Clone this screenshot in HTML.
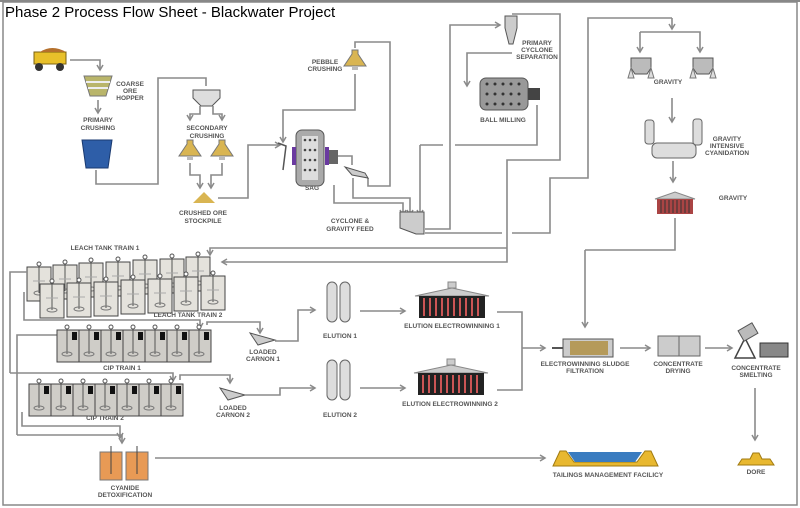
<!DOCTYPE html>
<html><head><meta charset="utf-8"><style>
body{margin:0;background:#fff}
svg{display:block}
text{font-family:"Liberation Sans",sans-serif;font-weight:bold;font-size:6.5px;fill:#555;text-anchor:middle}
.t{font-weight:normal;font-size:15px;fill:#000;text-anchor:start}
.l{fill:none;stroke:#8a8a8a;stroke-width:1.6}
.a{fill:none;stroke:#8a8a8a;stroke-width:1.6;marker-end:url(#m)}
.tk{fill:#e4e2dc;stroke:#444;stroke-width:1}
.cp{fill:#cfcdc8;stroke:#444;stroke-width:1}
</style></head><body>
<svg width="800" height="508" viewBox="0 0 800 508">
<defs>
<marker id="m" markerWidth="8" markerHeight="8" refX="6" refY="4" orient="auto" markerUnits="userSpaceOnUse"><path d="M1,1 L6,4 L1,7" fill="none" stroke="#8a8a8a" stroke-width="1.5"/></marker>
<g id="tank"><rect class="tk" x="0" y="0" width="24" height="34"/><line x1="12" y1="-3" x2="12" y2="26" stroke="#555"/><circle cx="12" cy="-3" r="2" fill="#fff" stroke="#555"/><ellipse cx="12" cy="26" rx="5" ry="2" fill="none" stroke="#777"/><line x1="6" y1="14" x2="18" y2="14" stroke="#aaa"/></g>
<g id="cip"><rect class="cp" x="0" y="0" width="22" height="32"/><line x1="10" y1="-3" x2="10" y2="24" stroke="#555"/><circle cx="10" cy="-3" r="2" fill="#fff" stroke="#555"/><rect x="15" y="2" width="5" height="8" fill="#111"/><ellipse cx="10" cy="24" rx="5" ry="2" fill="none" stroke="#777"/></g>
<g id="cone"><path d="M-3,0 h6 v4 l8,12 h-22 l8,-12z" fill="#d9b552" stroke="#777"/><rect x="-3" y="16" width="6" height="4" fill="#bbb"/></g>
<g id="ew"><path d="M0,8 L37,0 L74,8z" fill="#ccc" stroke="#888"/><rect x="33" y="-6" width="8" height="6" fill="#ccc" stroke="#888"/><rect x="4" y="8" width="66" height="22" fill="#222"/><g stroke="#c55" stroke-width="2"><path d="M9,10v18M15,10v18M21,10v18M27,10v18M33,10v18M39,10v18M45,10v18M51,10v18M57,10v18M63,10v18"/></g></g>
<g id="col"><rect x="0" y="0" width="10" height="40" rx="5" fill="#ddd" stroke="#666"/><rect x="13" y="0" width="10" height="40" rx="5" fill="#ddd" stroke="#666"/></g>
</defs>
<line x1="0" y1="1" x2="800" y2="1" stroke="#888" stroke-width="2"/>
<rect x="3" y="2" width="794" height="503" fill="none" stroke="#888" stroke-width="1.5"/>
<text class="t" x="5" y="17">Phase 2 Process Flow Sheet - Blackwater Project</text>

<rect x="34" y="52" width="32" height="12" fill="#e8c02a" stroke="#7a6010"/><path d="M40,52 q12,-8 26,0z" fill="#b5702c"/><circle cx="39" cy="67" r="4" fill="#333"/><circle cx="60" cy="67" r="4" fill="#333"/>
<path class="a" d="M70,60 H100 V70"/>
<path d="M84,76 h28 l-6,20 h-16z" fill="#b9b56a" stroke="#777"/><path d="M86,82h24M88,88h20" stroke="#eee" stroke-width="2"/>
<text x="130" y="86">COARSE</text><text x="130" y="93">ORE</text><text x="130" y="100">HOPPER</text>
<path class="a" d="M98,100 V113"/>
<text x="98" y="122">PRIMARY</text><text x="98" y="130">CRUSHING</text>
<path d="M82,140 h30 l-4,28 h-22z" fill="#2e5ea8" stroke="#1a3a70"/>
<path class="l" d="M96,170 V184 H158 V78 H206 V86"/>
<path d="M193,90 h27 v8 l-8,8 h-11 l-8,-8z" fill="#ddd" stroke="#555"/>
<path class="a" d="M200,106 V114 H190 V120"/><path class="a" d="M213,106 V114 H222 V120"/>
<text x="207" y="130">SECONDARY</text><text x="207" y="138">CRUSHING</text>
<use href="#cone" x="190" y="140"/><use href="#cone" x="222" y="140"/>
<path class="a" d="M190,163 V175 H200 V188"/><path class="a" d="M222,163 V175 H211 V188"/>
<path d="M193,203 l11,-11 l11,11z" fill="#d9b552"/>
<text x="203" y="215">CRUSHED ORE</text><text x="203" y="223">STOCKPILE</text>
<path class="a" d="M218,198 H248 V145 H280"/>
<rect x="296" y="130" width="28" height="56" rx="6" fill="#aaa" stroke="#555"/>
<rect x="302" y="136" width="16" height="44" fill="#ddd"/>
<g fill="#444"><circle cx="305" cy="140" r="1.3"/><circle cx="310" cy="140" r="1.3"/><circle cx="315" cy="140" r="1.3"/><circle cx="305" cy="150" r="1.3"/><circle cx="310" cy="150" r="1.3"/><circle cx="315" cy="150" r="1.3"/><circle cx="305" cy="160" r="1.3"/><circle cx="310" cy="160" r="1.3"/><circle cx="315" cy="160" r="1.3"/><circle cx="305" cy="170" r="1.3"/><circle cx="310" cy="170" r="1.3"/><circle cx="315" cy="170" r="1.3"/></g>
<rect x="292" y="147" width="4" height="18" fill="#6a3aa0"/><rect x="325" y="147" width="4" height="18" fill="#6a3aa0"/><rect x="329" y="150" width="9" height="14" fill="#666"/>
<path d="M278,143 l8,3 l-3,24" fill="none" stroke="#555" stroke-width="1.5"/>
<text x="312" y="190">SAG</text>
<use href="#cone" x="355" y="50"/>
<text x="325" y="64">PEBBLE</text><text x="325" y="71">CRUSHING</text>
<path class="a" d="M355,74 V110 H283 V142"/>
<path class="l" d="M355,48 V42 H390 V186 H368 V178"/>
<path d="M345,167 l20,6 l3,5 l-16,-3z" fill="#ccc" stroke="#555"/>
<path class="l" d="M338,156 H352 V165"/>
<path class="a" d="M334,185 V203 H403 V215"/><path class="a" d="M353,178 V198 H410 V215"/>
<path class="a" d="M420,145 V215"/><path class="l" d="M420,145 H443 M455,145 H537 V105"/>
<path d="M400,212 h24 v22 h-8 l-16,-6z" fill="#ccc" stroke="#555"/>
<text x="350" y="223">CYCLONE &amp;</text><text x="350" y="231">GRAVITY FEED</text>
<path class="a" d="M425,229 H450 V25 H500"/>
<path d="M505,16 h12 v12 l-4,16 h-4 l-4,-16z" fill="#ccc" stroke="#555"/>
<text x="537" y="45">PRIMARY</text><text x="537" y="52">CYCLONE</text><text x="537" y="59">SEPARATION</text>
<path class="l" d="M512,14 H560 V160 H507 V262 H228"/><path class="a" d="M507,248 H210 V255"/><path class="a" d="M228,262 H222"/>
<path class="a" d="M512,53 H467 V86"/>
<rect x="480" y="78" width="48" height="32" rx="6" fill="#999" stroke="#555"/>
<g fill="#333"><circle cx="487" cy="84" r="1.5"/><circle cx="495" cy="84" r="1.5"/><circle cx="503" cy="84" r="1.5"/><circle cx="511" cy="84" r="1.5"/><circle cx="519" cy="84" r="1.5"/><circle cx="487" cy="94" r="1.5"/><circle cx="495" cy="94" r="1.5"/><circle cx="503" cy="94" r="1.5"/><circle cx="511" cy="94" r="1.5"/><circle cx="519" cy="94" r="1.5"/><circle cx="487" cy="104" r="1.5"/><circle cx="495" cy="104" r="1.5"/><circle cx="503" cy="104" r="1.5"/><circle cx="511" cy="104" r="1.5"/><circle cx="519" cy="104" r="1.5"/></g>
<rect x="528" y="88" width="12" height="12" fill="#444"/>
<text x="503" y="122">BALL MILLING</text>
<path class="l" d="M425,233 H502 M512,233 H550 V178 H588 V18 H672"/><path class="a" d="M672,18 V29"/>
<path class="a" d="M640,32 H700 V52"/><path class="a" d="M640,32 V52"/>
<path d="M631,58 h20 v10 l-4,6 h-12 l-4,-6z" fill="#bbb" stroke="#555"/><path d="M693,58 h20 v10 l-4,6 h-12 l-4,-6z" fill="#bbb" stroke="#555"/>
<path d="M631,68l-3,10h6zM651,68l3,10h-6zM693,68l-3,10h6zM713,68l3,10h-6z" fill="#ddd" stroke="#777"/>
<text x="668" y="84">GRAVITY</text>
<path class="a" d="M672,98 V122"/>
<rect x="645" y="120" width="9" height="24" rx="3" fill="#ddd" stroke="#666"/><rect x="693" y="119" width="9" height="26" rx="3" fill="#ddd" stroke="#666"/>
<rect x="652" y="143" width="44" height="15" rx="5" fill="#ddd" stroke="#666"/>
<text x="727" y="141">GRAVITY</text><text x="727" y="148">INTENSIVE</text><text x="727" y="155">CYANIDATION</text>
<path class="a" d="M673,161 V182"/>
<path d="M655,199 L675,192 L695,199z" fill="#ccc" stroke="#888"/><rect x="657" y="199" width="36" height="15" fill="#a44"/><path d="M661,200v13M665,200v13M669,200v13M673,200v13M677,200v13M681,200v13M685,200v13M689,200v13" stroke="#333"/>
<text x="733" y="200">GRAVITY</text>
<path class="l" d="M675,218 V250 H585"/><path class="a" d="M585,250 V327"/>
<text x="105" y="250">LEACH TANK TRAIN 1</text>
<use href="#tank" x="27" y="267"/><use href="#tank" x="53" y="265"/><use href="#tank" x="79" y="263"/><use href="#tank" x="106" y="262"/><use href="#tank" x="133" y="260"/><use href="#tank" x="160" y="259"/><use href="#tank" x="186" y="257"/>
<use href="#tank" x="40" y="284"/><use href="#tank" x="67" y="283"/><use href="#tank" x="94" y="282"/><use href="#tank" x="121" y="280"/><use href="#tank" x="148" y="279"/><use href="#tank" x="174" y="277"/><use href="#tank" x="201" y="276"/>
<text x="188" y="317">LEACH TANK TRAIN 2</text>
<path class="a" d="M24,292 V320 H200 V328"/>
<path class="l" d="M27,272 H10 V373"/><path class="a" d="M10,373 H173 V381"/>
<path class="l" d="M57,335 H17 V435"/><path class="a" d="M17,435 H122 V443"/><path class="a" d="M22,412 V426 H120 V438"/>
<use href="#cip" x="57" y="330"/><use href="#cip" x="79" y="330"/><use href="#cip" x="101" y="330"/><use href="#cip" x="123" y="330"/><use href="#cip" x="145" y="330"/><use href="#cip" x="167" y="330"/><use href="#cip" x="189" y="330"/>
<text x="122" y="370">CIP TRAIN 1</text>
<use href="#cip" x="29" y="384"/><use href="#cip" x="51" y="384"/><use href="#cip" x="73" y="384"/><use href="#cip" x="95" y="384"/><use href="#cip" x="117" y="384"/><use href="#cip" x="139" y="384"/><use href="#cip" x="161" y="384"/>
<text x="105" y="420">CIP TRAIN 2</text>
<path class="a" d="M207,325 V322 H260 V333"/>
<path d="M250,333 l25,7 l-17,5z" fill="#ccc" stroke="#555"/>
<text x="263" y="354">LOADED</text><text x="263" y="361">CARNON 1</text>
<path class="a" d="M275,341 H298 V310 H315"/>
<use href="#col" x="327" y="282"/><text x="340" y="338">ELUTION 1</text>
<path class="a" d="M180,380 V375 H230 V383"/>
<path d="M220,388 l25,7 l-17,5z" fill="#ccc" stroke="#555"/>
<text x="233" y="410">LOADED</text><text x="233" y="417">CARNON 2</text>
<path class="a" d="M245,395 H280 V388 H315"/>
<use href="#col" x="327" y="360"/><text x="340" y="417">ELUTION 2</text>
<path class="a" d="M360,311 H405"/><path class="a" d="M360,388 H405"/>
<use href="#ew" x="415" y="288"/><text x="452" y="328">ELUTION ELECTROWINNING 1</text>
<use href="#ew" x="414" y="365"/><text x="450" y="406">ELUTION ELECTROWINNING 2</text>
<path class="l" d="M497,312 H522 V390 H497"/><path class="a" d="M522,348 H545"/>
<rect x="563" y="339" width="50" height="18" fill="#ccc" stroke="#555"/><rect x="570" y="341" width="38" height="14" fill="#b59a5a"/><path d="M552,348 h11" stroke="#555" stroke-width="2"/>
<text x="585" y="366">ELECTROWINNING SLUDGE</text><text x="585" y="373">FILTRATION</text>
<path class="a" d="M620,348 H650"/>
<rect x="658" y="336" width="42" height="20" fill="#ccc" stroke="#666"/><line x1="679" y1="336" x2="679" y2="356" stroke="#666"/>
<text x="678" y="366">CONCENTRATE</text><text x="678" y="373">DRYING</text>
<path class="a" d="M705,348 H732"/>
<path d="M735,358 l10,-20 l10,20z" fill="none" stroke="#444" stroke-width="1.5"/><rect x="740" y="326" width="16" height="12" fill="#bbb" stroke="#555" transform="rotate(-30 748 332)"/><rect x="760" y="343" width="28" height="14" fill="#888" stroke="#333"/>
<text x="756" y="370">CONCENTRATE</text><text x="756" y="377">SMELTING</text>
<path class="a" d="M755,388 V440"/>
<path d="M738,465 l4,-6 h8 l3,-6 h6 l3,6 h8 l4,6z" fill="#e8b830" stroke="#a07a10"/>
<text x="756" y="474">DORE</text>
<rect x="100" y="452" width="22" height="28" fill="#e89a55" stroke="#777"/><rect x="126" y="452" width="22" height="28" fill="#e89a55" stroke="#777"/>
<path d="M111,446v28M137,446v28" stroke="#444"/>
<text x="125" y="490">CYANIDE</text><text x="125" y="497">DETOXIFICATION</text>
<path class="a" d="M155,458 H545"/>
<path d="M553,466 l7,-15 h6 l8,11 h63 l8,-11 h6 l7,15z" fill="#e8b830" stroke="#a07a10"/><path d="M568,452 h74 l-7,10 h-60z" fill="#3a7cc0"/>
<text x="608" y="477">TAILINGS MANAGEMENT FACILICY</text>
</svg>
</body></html>
